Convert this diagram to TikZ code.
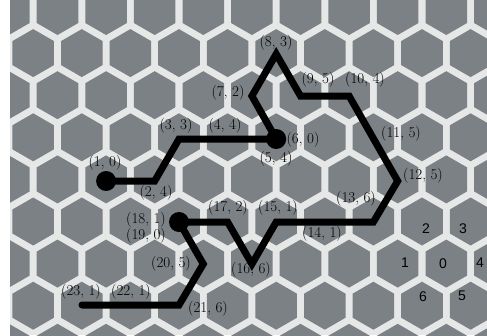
\documentclass[tikz,border=0pt]{standalone}
\usepackage{fontspec}
\newfontfamily\digitfont{Liberation Sans}
\definecolor{hexgrey}{RGB}{124,129,133}
\definecolor{gapcol}{RGB}{230,232,232}
\begin{document}
\begin{tikzpicture}[x=1pt,y=-1pt,
  lbl/.style={inner sep=0pt,font=\fontsize{15}{18}\selectfont},
  num/.style={inner sep=0pt,font=\digitfont\fontsize{14}{16}\selectfont},
  route/.style={line width=7pt,line join=miter,line cap=round,black},
  dot/.style={circle,fill=black,inner sep=0pt,minimum size=20pt}]
\useasboundingbox (0,0) rectangle (487,335);
\fill[white] (0,0) rectangle (487,335);
\fill[gapcol] (10,0) rectangle (487,335);
\begin{scope}
\clip (10,0) rectangle (487,335);
\foreach \r in {0,...,8}{
  \foreach \k in {-1,...,10}{
    \pgfmathsetmacro{\hx}{33.2+48.6*\k+(mod(\r,2)==0?24.3:0)}
    \pgfmathsetmacro{\hy}{11+42.1*\r}
    \fill[hexgrey] (\hx,\hy) +(30:24) -- +(90:24) -- +(150:24) -- +(210:24) -- +(270:24) -- +(330:24) -- cycle;
  }
}
\end{scope}
% route points (hex centres)
\coordinate (A) at (106.1,181);
\coordinate (B) at (154.7,181);
\coordinate (C) at (179.0,139);
\coordinate (D) at (276.2,139);
\coordinate (E) at (251.9,96);
\coordinate (F) at (276.2,54);
\coordinate (G) at (300.5,96);
\coordinate (H) at (349.1,96);
\coordinate (I) at (397.7,181);
\coordinate (J) at (373.4,222);
\coordinate (K) at (276.2,222);
\coordinate (L) at (251.9,264);
\coordinate (M) at (227.6,222);
\coordinate (N) at (179.0,222);
\coordinate (O) at (203.3,264);
\coordinate (P) at (179.0,305);
\coordinate (Q) at (82.0,305);
\draw[route] (A) -- (B) -- (C) -- (D) -- (E) -- (F) -- (G) -- (H) -- (I) -- (J) -- (K) -- (L) -- (M) -- (N);
\draw[route] (N) -- (O) -- (P) -- (Q);
\node[dot] (dA) at (A) {};
\node[dot] (dD) at (D) {};
\node[dot] (dN) at (N) {};
% labels
\node[lbl] (t1) at (105,163) {(1, 0)};
\node[lbl] (t2) at (156,193) {(2, 4)};
\node[lbl] (t3) at (176,126) {(3, 3)};
\node[lbl] (t4) at (225,126) {(4, 4)};
\node[lbl] (t5) at (276,159) {(5, 4)};
\node[lbl] (t6) at (303,140) {(6, 0)};
\node[lbl] (t7) at (228,93) {(7, 2)};
\node[lbl] (t8) at (276,43) {(8, 3)};
\node[lbl] (t9) at (318,80) {(9, 5)};
\node[lbl] (t10) at (365,80) {(10, 4)};
\node[lbl] (t11) at (401,134) {(11, 5)};
\node[lbl] (t12) at (423,176) {(12, 5)};
\node[lbl] (t13) at (356,199) {(13, 6)};
\node[lbl] (t14) at (322,234) {(14, 1)};
\node[lbl] (t15) at (278,208) {(15, 1)};
\node[lbl] (t16) at (251,270) {(16, 6)};
\node[lbl] (t17) at (228,208) {(17, 2)};
\node[lbl] (t18) at (146,220) {(18, 1)};
\node[lbl] (t19) at (146,236) {(19, 0)};
\node[lbl] (t20) at (171,264) {(20, 5)};
\node[lbl] (t21) at (208,309) {(21, 6)};
\node[lbl] (t22) at (131,292) {(22, 1)};
\node[lbl] (t23) at (81,292) {(23, 1)};
% neighbourhood numbers
\node[num] (n0) at (443,264) {0};
\node[num] (n1) at (405,263) {1};
\node[num] (n2) at (426,229) {2};
\node[num] (n3) at (463,229) {3};
\node[num] (n4) at (480,263) {4};
\node[num] (n5) at (462,296) {5};
\node[num] (n6) at (423,297) {6};
\end{tikzpicture}
\end{document}
